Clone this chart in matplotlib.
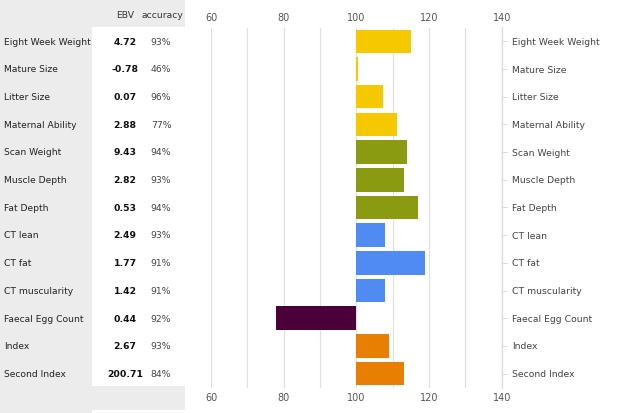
import matplotlib
matplotlib.use("Agg")
import matplotlib.pyplot as plt
from matplotlib.patches import Rectangle

traits = ["Eight Week Weight", "Mature Size", "Litter Size", "Maternal Ability",
          "Scan Weight", "Muscle Depth", "Fat Depth", "CT lean", "CT fat",
          "CT muscularity", "Faecal Egg Count", "Index", "Second Index"]
ebv = ["4.72", "-0.78", "0.07", "2.88", "9.43", "2.82", "0.53", "2.49", "1.77",
       "1.42", "0.44", "2.67", "200.71"]
accuracy = ["93%", "46%", "96%", "77%", "94%", "93%", "94%", "93%", "91%",
            "91%", "92%", "93%", "84%"]
scores = [115.0, 100.4, 107.2, 111.1, 114.0, 113.1, 116.9, 107.9, 118.9,
          107.9, 77.9, 109.1, 113.1]
groups = ["growth", "growth", "growth", "growth", "carcase", "carcase", "carcase",
          "ct", "ct", "ct", "health", "index", "index"]
x_ticks = [60, 80, 100, 120, 140]

group_colors = {"growth": "#f6c800", "carcase": "#8a9b12", "ct": "#4f8bf2",
                "health": "#4b0039", "index": "#e97f02"}

W, H = 620, 413
fig = plt.figure(figsize=(W / 100, H / 100), dpi=100)
fig.patch.set_facecolor("white")

def fx(px):
    return px / W

def fy(py):
    return 1 - py / H

gray = "#ececec"
# table backgrounds
fig.patches.append(Rectangle((0, fy(H)), fx(92), 1, transform=fig.transFigure,
                             facecolor=gray, edgecolor="none", zorder=0))
fig.patches.append(Rectangle((0, fy(27)), fx(185), 27 / H, transform=fig.transFigure,
                             facecolor=gray, edgecolor="none", zorder=0))
fig.patches.append(Rectangle((0, fy(410)), fx(185), (410 - 386) / H, transform=fig.transFigure,
                             facecolor=gray, edgecolor="none", zorder=0))

ax = fig.add_axes([fx(211), fy(387.5), fx(501.7 - 211), (387.5 - 27.5) / H])
ax.set_facecolor("none")
n = len(traits)
y = list(range(n))
lefts = [min(100, s) for s in scores]
widths = [abs(s - 100) for s in scores]
ax.barh(y, widths, left=lefts, height=0.85,
        color=[group_colors[g] for g in groups], zorder=3)
ax.set_xlim(60, 140)
ax.set_ylim(n - 0.5, -0.5)
for v in range(60, 141, 10):
    ax.axvline(v, color="#e0e0e0", lw=0.9, zorder=1)

for s in ["top", "bottom", "left"]:
    ax.spines[s].set_visible(False)
ax.spines["right"].set_color("#dddddd")
ax.spines["right"].set_linewidth(0.9)

ax.set_xticks(x_ticks)
ax.set_xticklabels([str(t) for t in x_ticks])
ax.tick_params(axis="x", which="both", length=0, top=False, bottom=True,
               labeltop=False, labelbottom=True, labelsize=7, colors="#555555", pad=4)

top = ax.secondary_xaxis("top")
top.set_xticks(x_ticks)
top.set_xticklabels([str(t) for t in x_ticks])
top.tick_params(length=0, labelsize=7, colors="#555555", pad=3)
top.spines["top"].set_visible(False)

ax.yaxis.tick_right()
ax.set_yticks(y)
ax.set_yticklabels(traits)
ax.tick_params(axis="y", length=3.5, color="#dddddd", labelsize=6.7,
               labelcolor="#444444", pad=4)

# table text
fig.text(fx(125), fy(16), "EBV", ha="center", va="center", fontsize=6.7, color="#333333")
fig.text(fx(162), fy(16), "accuracy", ha="center", va="center", fontsize=6.7, color="#333333")
for i in range(n):
    ypix = 28.3 + (i + 0.5) * 360 / n
    fig.text(fx(4), fy(ypix), traits[i], ha="left", va="center", fontsize=6.6, color="#222222")
    fig.text(fx(125), fy(ypix), ebv[i], ha="center", va="center", fontsize=6.7,
             color="#111111", fontweight="bold")
    fig.text(fx(161), fy(ypix), accuracy[i], ha="center", va="center", fontsize=6.7,
             color="#444444")

fig.savefig("out.png", dpi=100)
